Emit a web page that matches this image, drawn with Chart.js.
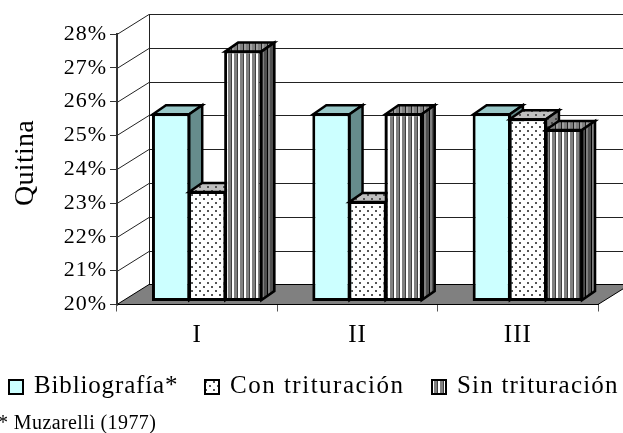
<!DOCTYPE html>
<html>
<head>
<meta charset="utf-8">
<style>
  html, body { margin: 0; padding: 0; background: #fff; overflow: hidden; }
  canvas { display: block; }
</style>
<script src="https://cdn.jsdelivr.net/npm/chart.js@4"></script>
</head>
<body>
<canvas id="chart" width="623" height="433"></canvas>
<script>
const categories = ['I', 'II', 'III'];
const bibliografia = [25.57, 25.57, 25.57];
const conTrituracion = [23.27, 22.97, 25.42];
const sinTrituracion = [27.42, 25.57, 25.1];
const seriesNames = ['Bibliografía*', 'Con trituración', 'Sin trituración'];
const axisTitle = 'Quitina';
const footnote = '* Muzarelli (1977)';

const serif = '"Liberation Serif", "Times New Roman", serif';

// depth of the back wall and of the bars, in pixels
const wallDx = 32, wallDy = 20;
const barDx = 13, barDy = 9;
const barShiftX = 10, barShiftY = -3;

// legend row: where each entry starts and how tight its text is set
const legendX = [8, 204, 431];
const legendSpacing = ['0.85px', '1.5px', '1.2px'];

function tile(w, h, paint) {
    const c = document.createElement('canvas');
    c.width = w;
    c.height = h;
    paint(c.getContext('2d'));
    return c.getContext('2d').createPattern(c, 'repeat');
}

function dots(bg, fg) {
    return tile(8, 8, g => {
        g.fillStyle = bg;
        g.fillRect(0, 0, 8, 8);
        g.fillStyle = fg;
        g.fillRect(1, 1, 2, 2);
        g.fillRect(5, 5, 2, 2);
    });
}

function stripes(bg, light, dark) {
    return tile(6, 6, g => {
        g.fillStyle = bg;
        g.fillRect(0, 0, 6, 6);
        g.fillStyle = light;
        g.fillRect(0, 0, 2, 6);
        g.fillStyle = dark;
        g.fillRect(5, 0, 1, 6);
    });
}

// front, top and side colour of each series
const faces = [
    { front: '#ccffff', top: '#99c8c8', side: '#668c8c' },
    { front: dots('#ffffff', '#555555'), top: dots('#c0c0c0', '#555555'), side: dots('#808080', '#444444') },
    { front: stripes('#808080', '#ffffff', '#404040'), top: stripes('#808080', '#a0a0a0', '#202020'), side: stripes('#505050', '#808080', '#000000') }
];

function poly(ctx, pts, fill) {
    ctx.beginPath();
    pts.forEach((p, i) => i ? ctx.lineTo(p[0], p[1]) : ctx.moveTo(p[0], p[1]));
    ctx.closePath();
    ctx.fillStyle = fill;
    ctx.fill();
    ctx.stroke();
}

const box3d = {
    id: 'box3d',
    beforeUpdate(chart) {
        chart.ctx.letterSpacing = '1px';
    },
    beforeDraw(chart) {
        const ctx = chart.ctx;
        const { left, right, bottom } = chart.chartArea;
        const y = chart.scales.y;
        ctx.save();
        // walls and gridlines
        ctx.strokeStyle = '#222';
        ctx.lineWidth = 1;
        y.ticks.forEach(t => {
            const py = Math.round(y.getPixelForValue(t.value)) + 0.5;
            ctx.beginPath();
            ctx.moveTo(left, py);
            ctx.lineTo(left + wallDx, py - wallDy);
            ctx.lineTo(right + wallDx, py - wallDy);
            ctx.stroke();
        });
        ctx.beginPath();
        ctx.moveTo(left + wallDx + 0.5, y.top - wallDy);
        ctx.lineTo(left + wallDx + 0.5, y.bottom - wallDy);
        ctx.stroke();
        // floor
        ctx.strokeStyle = '#000';
        ctx.lineJoin = 'miter';
        poly(ctx, [[left, bottom], [right, bottom], [right + wallDx, bottom - wallDy], [left + wallDx, bottom - wallDy]], '#808080');
        ctx.restore();
    },
    beforeDatasetsDraw(chart) {
        const ctx = chart.ctx;
        ctx.save();
        ctx.translate(barShiftX, barShiftY);
        ctx.strokeStyle = '#000';
        ctx.lineWidth = 2.5;
        chart.data.datasets.forEach((ds, i) => {
            chart.getDatasetMeta(i).data.forEach(bar => {
                const p = bar.getProps(['x', 'y', 'base', 'width']);
                const l = p.x - p.width / 2 + 1, r = p.x + p.width / 2 - 1, t = p.y + 1, b = p.base - 1;
                poly(ctx, [[l, t], [l + barDx, t - barDy], [r + barDx, t - barDy], [r, t]], faces[i].top);
                poly(ctx, [[r, t], [r + barDx, t - barDy], [r + barDx, b - barDy], [r, b]], faces[i].side);
                bar.draw(ctx);
            });
        });
        ctx.restore();
        // bars go left to right here, so the default drawing is skipped
        return false;
    },
    afterDraw(chart) {
        const ctx = chart.ctx;
        ctx.save();
        ctx.fillStyle = '#000';
        ctx.textAlign = 'left';
        ctx.textBaseline = 'alphabetic';
        // legend row, it does not fit the native legend's wrapping rule
        ctx.font = '25px ' + serif;
        ctx.strokeStyle = '#000';
        ctx.lineWidth = 2;
        seriesNames.forEach((name, i) => {
            const x = legendX[i];
            ctx.fillStyle = faces[i].front;
            ctx.fillRect(x + 1, 380, 14, 14);
            ctx.strokeRect(x + 1, 380, 14, 14);
            ctx.fillStyle = '#000';
            ctx.letterSpacing = legendSpacing[i];
            ctx.fillText(name, x + 26, 393);
        });
        ctx.letterSpacing = '0.4px';
        ctx.font = '20px ' + serif;
        ctx.fillText(footnote, -2, 429);
        // axis title sits a little above the middle of the axis
        ctx.letterSpacing = '0.3px';
        ctx.font = '28px ' + serif;
        ctx.translate(33, 206);
        ctx.rotate(-Math.PI / 2);
        ctx.fillText(axisTitle, 0, 0);
        ctx.restore();
    }
};

new Chart(document.getElementById('chart'), {
    type: 'bar',
    data: {
        labels: categories,
        datasets: [bibliografia, conTrituracion, sinTrituracion].map((values, i) => ({
            label: seriesNames[i],
            data: values,
            base: 20,
            backgroundColor: faces[i].front,
            borderColor: '#000',
            borderWidth: 3,
            borderSkipped: false
        }))
    },
    options: {
        responsive: false,
        animation: false,
        categoryPercentage: 0.675,
        barPercentage: 1.06,
        layout: { padding: { left: 0, top: 34, right: 25, bottom: 0 } },
        plugins: {
            tooltip: { enabled: false },
            legend: { display: false }
        },
        scales: {
            x: {
                afterFit(s) { s.height = 128.5; },
                grid: { display: true, drawOnChartArea: false, tickLength: 7, color: '#555' },
                border: { display: true, color: '#000' },
                ticks: { color: '#000', font: { family: serif, size: 25 }, padding: 9, maxRotation: 0 }
            },
            y: {
                min: 20,
                max: 28,
                afterFit(s) { s.width = 117; },
                grid: { drawOnChartArea: false, tickLength: 7, color: '#333' },
                border: { display: true, color: '#333', width: 2 },
                ticks: {
                    stepSize: 1,
                    autoSkip: false,
                    color: '#000',
                    font: { family: serif, size: 22 },
                    padding: 3,
                    callback: v => v + '%'
                }
            }
        }
    },
    plugins: [box3d]
});
</script>
</body>
</html>
